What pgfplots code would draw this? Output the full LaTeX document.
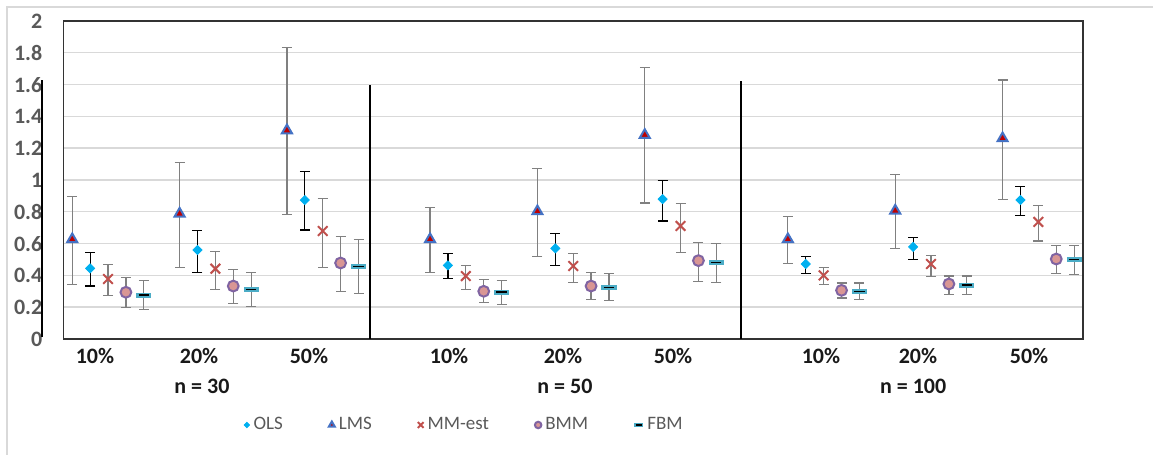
\documentclass[border=0pt]{standalone}
\usepackage{fontspec}
\setmainfont{Carlito}
\usepackage{pgfplots}
\pgfplotsset{compat=1.18}
\usepackage{pgfplotstable}

\definecolor{olsblue}{HTML}{00B0F0}
\definecolor{lmsred}{HTML}{C00000}
\definecolor{lmsedge}{HTML}{4472C4}
\definecolor{mmred}{HTML}{C0504D}
\definecolor{bmmfill}{HTML}{D99694}
\definecolor{bmmedge}{HTML}{8064A2}
\definecolor{fbmcyan}{HTML}{4BACC6}
\definecolor{gridgray}{HTML}{D9D9D9}
\definecolor{labgray}{HTML}{595959}
\definecolor{errgray}{HTML}{808080}

% dash marker: cyan bar with a black stroke in the middle
\pgfdeclareplotmark{fbm}{%
  \pgfpathrectangle{\pgfqpoint{-\pgfplotmarksize}{-0.34\pgfplotmarksize}}{\pgfqpoint{2\pgfplotmarksize}{0.68\pgfplotmarksize}}%
  \pgfsetfillcolor{fbmcyan}\pgfusepath{fill}%
  \pgfpathmoveto{\pgfqpoint{-0.68\pgfplotmarksize}{0pt}}%
  \pgfpathlineto{\pgfqpoint{0.68\pgfplotmarksize}{0pt}}%
  \pgfsetstrokecolor{black}\pgfsetlinewidth{0.8pt}\pgfusepath{stroke}}

% x y lo hi
\pgfplotstableread{
x y lo hi
2 0.444 0.333 0.543
8 0.560 0.419 0.683
14 0.874 0.686 1.055
22 0.463 0.382 0.537
28 0.570 0.463 0.662
34 0.880 0.742 0.998
42 0.472 0.413 0.518
48 0.579 0.501 0.637
54 0.874 0.778 0.960
}\ols
\pgfplotstableread{
x y lo hi
1 0.627 0.344 0.895
7 0.788 0.451 1.111
13 1.312 0.784 1.832
21 0.627 0.419 0.828
27 0.803 0.520 1.073
33 1.283 0.855 1.706
41 0.627 0.476 0.769
47 0.807 0.570 1.036
53 1.262 0.878 1.629
}\lms
\pgfplotstableread{
x y lo hi
3 0.377 0.275 0.470
9 0.442 0.312 0.549
15 0.679 0.451 0.885
23 0.396 0.312 0.463
29 0.459 0.356 0.537
35 0.711 0.545 0.853
43 0.400 0.344 0.449
49 0.472 0.394 0.524
55 0.736 0.616 0.839
}\mmest
\pgfplotstableread{
x y lo hi
4 0.294 0.199 0.388
10 0.333 0.224 0.438
16 0.478 0.300 0.646
24 0.300 0.231 0.373
30 0.333 0.249 0.417
36 0.493 0.363 0.606
44 0.306 0.258 0.352
50 0.346 0.281 0.396
56 0.503 0.413 0.587
}\bmm
\pgfplotstableread{
x y lo hi
5 0.275 0.184 0.367
11 0.312 0.205 0.417
17 0.455 0.287 0.627
25 0.294 0.218 0.367
31 0.325 0.243 0.411
37 0.482 0.356 0.600
45 0.298 0.249 0.352
51 0.338 0.281 0.396
57 0.501 0.407 0.587
}\fbm

\begin{document}
\begin{tikzpicture}
\begin{axis}[
    scale only axis,
    width=509.9pt, height=159pt,
    xmin=0.5, xmax=57.5,
    ymin=0, ymax=2,
    clip=false,
    axis line style={draw=black!80, line width=0.6pt},
    ytick={0,0.2,0.4,0.6,0.8,1,1.2,1.4,1.6,1.8,2},
    ymajorgrids,
    grid style={draw=gridgray, line width=0.7pt},
    xtick={2.27,8.09,14.23,22.06,28.43,34.58,42.85,48.27,54.48},
    xticklabels={10\%,20\%,50\%,10\%,20\%,50\%,10\%,20\%,50\%},
    major tick length=0pt,
    /pgf/number format/assume math mode=true,
    yticklabel style={font=\bfseries\fontsize{11}{13}\selectfont, text=labgray, xshift=-7pt},
    xticklabel style={font=\bfseries\fontsize{11}{13}\selectfont, text=black!90, yshift=-1pt},
    error bars/error bar style={draw=errgray, line width=0.6pt},
    error bars/error mark options={rotate=90, draw=errgray, line width=0.6pt, mark size=2.5pt},
    legend columns=5,
    legend image code/.code={\draw[#1, every mark/.append style={scale=0.6}] plot coordinates {(0pt,0pt)};},
    legend style={at={(0.171,0)}, anchor=west, yshift=-43pt, draw=none, fill=none,
        font=\fontsize{9.5}{11}\selectfont, text=labgray,
        /tikz/every even column/.append style={column sep=21pt}},
    legend cell align=left,
]
\addplot[only marks, mark=square*, mark size=1.6pt,
    mark options={rotate=45, draw=olsblue, fill=olsblue},
    error bars/.cd, y dir=both, y explicit,
    error bar style={draw=black, line width=0.6pt},
    error mark options={rotate=90, draw=black, line width=0.6pt, mark size=2.5pt}]
    table[x=x, y=y, y error plus expr=\thisrow{hi}-\thisrow{y}, y error minus expr=\thisrow{y}-\thisrow{lo}] {\ols};
\addlegendentry{OLS}
\addplot[only marks, mark=triangle*, mark size=2.9pt,
    mark options={draw=lmsedge, fill=lmsred, line width=1pt},
    error bars/.cd, y dir=both, y explicit]
    table[x=x, y=y, y error plus expr=\thisrow{hi}-\thisrow{y}, y error minus expr=\thisrow{y}-\thisrow{lo}] {\lms};
\addlegendentry{LMS}
\addplot[only marks, mark=x, mark size=3.4pt,
    mark options={draw=mmred, line width=1pt},
    error bars/.cd, y dir=both, y explicit]
    table[x=x, y=y, y error plus expr=\thisrow{hi}-\thisrow{y}, y error minus expr=\thisrow{y}-\thisrow{lo}] {\mmest};
\addlegendentry{MM-est}
\addplot[only marks, mark=*, mark size=2.7pt,
    mark options={draw=bmmedge, fill=bmmfill, line width=1pt},
    error bars/.cd, y dir=both, y explicit]
    table[x=x, y=y, y error plus expr=\thisrow{hi}-\thisrow{y}, y error minus expr=\thisrow{y}-\thisrow{lo}] {\bmm};
\addlegendentry{BMM}
\addplot[only marks, mark=fbm, mark size=3.8pt,
    error bars/.cd, y dir=both, y explicit]
    table[x=x, y=y, y error plus expr=\thisrow{hi}-\thisrow{y}, y error minus expr=\thisrow{y}-\thisrow{lo}] {\fbm};
\addlegendentry{FBM}

% separators between the sample sizes
\addplot[black, line width=1pt, mark=none, forget plot] coordinates {(-0.71,0.01) (-0.71,1.63)};
\addplot[black, line width=1pt, mark=none, forget plot] coordinates {(17.64,0) (17.64,1.6)};
\addplot[black, line width=1pt, mark=none, forget plot] coordinates {(38.38,0) (38.38,1.62)};

\node[font=\bfseries\fontsize{11}{13}\selectfont, text=black!90] at (axis cs:8.25,0) [yshift=-23.5pt] {n = 30};
\node[font=\bfseries\fontsize{11}{13}\selectfont, text=black!90] at (axis cs:28.54,0) [yshift=-23.5pt] {n = 50};
\node[font=\bfseries\fontsize{11}{13}\selectfont, text=black!90] at (axis cs:48.0,0) [yshift=-23.5pt] {n = 100};
\end{axis}
\draw[gridgray, line width=1pt] (-28.15pt,-58pt) -- (-28.15pt,166pt) -- (544.85pt,166pt);
\pgfresetboundingbox
\useasboundingbox (-31.65pt,-58pt) rectangle (544.85pt,169.5pt);
\end{tikzpicture}
\end{document}
